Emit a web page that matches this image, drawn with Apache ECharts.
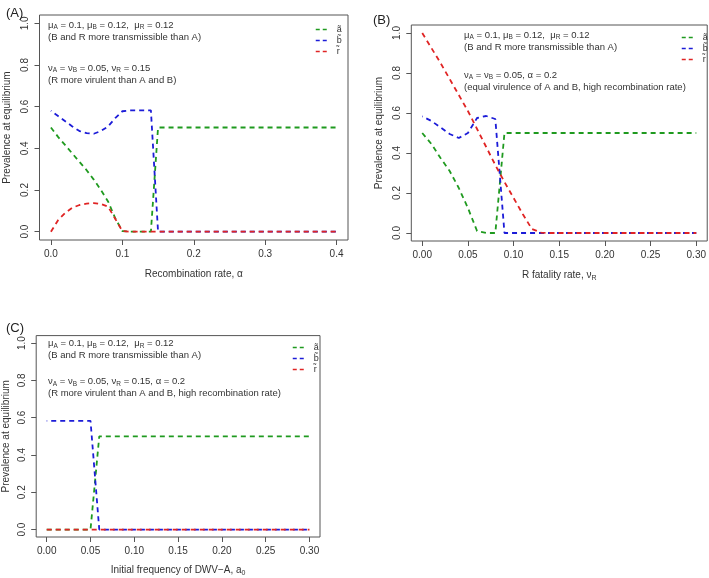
<!DOCTYPE html>
<html>
<head>
<meta charset="utf-8">
<script src="https://cdn.jsdelivr.net/npm/echarts@6/dist/echarts.min.js"></script>
<style>
  html, body { margin: 0; padding: 0; background: #fff; }
  #chart { width: 709px; height: 578px; }
</style>
</head>
<body>
<div id="chart"></div>
<script>
// panel A: recombination rate alpha, step 0.01
const alphaA = [];
for (let i = 0; i <= 40; i++) alphaA.push(+(i * 0.01).toFixed(2));
const aA = [0.5, 0.455, 0.415, 0.375, 0.335, 0.295, 0.25, 0.2, 0.145, 0.065, 0.003, 0, 0, 0, 0,
  0.5, 0.5, 0.5, 0.5, 0.5, 0.5, 0.5, 0.5, 0.5, 0.5, 0.5, 0.5, 0.5, 0.5, 0.5, 0.5, 0.5, 0.5, 0.5, 0.5, 0.5, 0.5, 0.5, 0.5, 0.5, 0.5];
const bA = [0.58, 0.555, 0.53, 0.505, 0.483, 0.473, 0.47, 0.483, 0.505, 0.545, 0.578, 0.582, 0.582, 0.582, 0.582,
  0, 0, 0, 0, 0, 0, 0, 0, 0, 0, 0, 0, 0, 0, 0, 0, 0, 0, 0, 0, 0, 0, 0, 0, 0, 0];
const rA = [0, 0.055, 0.09, 0.115, 0.128, 0.135, 0.137, 0.133, 0.12, 0.062, 0.003, 0, 0, 0, 0,
  0, 0, 0, 0, 0, 0, 0, 0, 0, 0, 0, 0, 0, 0, 0, 0, 0, 0, 0, 0, 0, 0, 0, 0, 0, 0];

// panel B: R fatality rate nu_R, step 0.01
const nuB = [];
for (let i = 0; i <= 30; i++) nuB.push(+(i * 0.01).toFixed(2));
const aB = [0.5, 0.445, 0.375, 0.31, 0.225, 0.125, 0.01, 0, 0,
  0.5, 0.5, 0.5, 0.5, 0.5, 0.5, 0.5, 0.5, 0.5, 0.5, 0.5, 0.5, 0.5, 0.5, 0.5, 0.5, 0.5, 0.5, 0.5, 0.5, 0.5, 0.5];
const bB = [0.583, 0.56, 0.528, 0.495, 0.475, 0.5, 0.575, 0.585, 0.57,
  0, 0, 0, 0, 0, 0, 0, 0, 0, 0, 0, 0, 0, 0, 0, 0, 0, 0, 0, 0, 0, 0];
const rB = [1.0, 0.925, 0.85, 0.77, 0.69, 0.61, 0.52, 0.43, 0.34, 0.255, 0.175, 0.095, 0.02, 0.002,
  0, 0, 0, 0, 0, 0, 0, 0, 0, 0, 0, 0, 0, 0, 0, 0, 0];

// panel C: initial frequency of DWV-A, step 0.01
const a0C = [];
for (let i = 0; i <= 30; i++) a0C.push(+(i * 0.01).toFixed(2));
const aC = [0, 0, 0, 0, 0, 0,
  0.5, 0.5, 0.5, 0.5, 0.5, 0.5, 0.5, 0.5, 0.5, 0.5, 0.5, 0.5, 0.5, 0.5, 0.5, 0.5, 0.5, 0.5, 0.5, 0.5, 0.5, 0.5, 0.5, 0.5, 0.5];
const bC = [0.583, 0.583, 0.583, 0.583, 0.583, 0.583,
  0, 0, 0, 0, 0, 0, 0, 0, 0, 0, 0, 0, 0, 0, 0, 0, 0, 0, 0, 0, 0, 0, 0, 0, 0];
const rC = [0, 0, 0, 0, 0, 0, 0, 0, 0, 0, 0, 0, 0, 0, 0, 0, 0, 0, 0, 0, 0, 0, 0, 0, 0, 0, 0, 0, 0, 0, 0];

// tick labels
const xTicksA = [0, 0.1, 0.2, 0.3, 0.4];
const xTicksBC = [0, 0.05, 0.1, 0.15, 0.2, 0.25, 0.3];
const yTicks = [0, 0.2, 0.4, 0.6, 0.8, 1.0];

const seriesNames = ['ã', 'b̃', 'r̃'];
const colors = ['#1f9a1f', '#1c1cd8', '#e02424'];

const textCol = '#333';
const font = 'Liberation Sans, Arial, sans-serif';

const chart = echarts.init(document.getElementById('chart'));

function pairs(xs, ys) { return xs.map((x, i) => [x, ys[i]]); }

function xAxis(idx, min, max, ticks, digits, name, gap) {
  return {
    type: 'value', gridIndex: idx, min: min, max: max,
    splitLine: { show: false },
    axisLine: { show: false, onZero: false },
    axisTick: { show: true, inside: false, length: 5, customValues: ticks, lineStyle: { color: '#555' } },
    axisLabel: { customValues: ticks, formatter: v => v.toFixed(digits), color: textCol, fontSize: 10, fontFamily: font, margin: 9 },
    name: name, nameLocation: 'middle', nameGap: gap,
    nameTextStyle: { color: textCol, fontSize: 10, fontFamily: font, rich: { s: { fontSize: 7, padding: [6, 0, 0, 0] } } }
  };
}
function yAxis(idx, gap) {
  return {
    type: 'value', gridIndex: idx, min: -0.04, max: 1.04,
    splitLine: { show: false },
    axisLine: { show: false, onZero: false },
    axisTick: { show: true, inside: false, length: 5, customValues: yTicks, lineStyle: { color: '#555' } },
    axisLabel: { customValues: yTicks, rotate: 90, formatter: v => v.toFixed(1), color: textCol, fontSize: 10, fontFamily: font, margin: 9 },
    name: 'Prevalence at equilibrium', nameLocation: 'middle', nameRotate: 90, nameGap: gap,
    nameTextStyle: { color: textCol, fontSize: 10, fontFamily: font }
  };
}

// draw order like the original: a, then b, then r on top (offset dashes so both show)
const series = [];
[[alphaA, [aA, bA, rA]], [nuB, [aB, bB, rB]], [a0C, [aC, bC, rC]]].forEach((p, gi) => {
  p[1].forEach((ys, si) => {
    series.push({
      type: 'line', name: seriesNames[si], xAxisIndex: gi, yAxisIndex: gi,
      data: pairs(p[0], ys), showSymbol: false, symbol: 'none', animation: false,
      lineStyle: { color: colors[si], width: 1.8, type: [5, 4], dashOffset: si * 4.5 },
      itemStyle: { color: colors[si] }, z: 2 + si
    });
  });
});

function legend(left, top) {
  return {
    left: left, top: top, orient: 'vertical', itemWidth: 14, itemHeight: 8, itemGap: 2,
    data: seriesNames, selectedMode: false,
    itemStyle: { opacity: 0, borderWidth: 0 },
    lineStyle: { type: [4, 3], width: 1.5, dashOffset: 0 },
    textStyle: { color: textCol, fontSize: 9, fontFamily: font, padding: [0, 0, 0, 2] }
  };
}

const rich = {
  n: { fontSize: 9.5, fontFamily: font, color: textCol },
  s: { fontSize: 6.5, fontFamily: font, color: textCol, padding: [5, 0, 0, 0] }
};
function note(x, y, txt) {
  return { type: 'text', x: x, y: y, style: { text: txt, font: '9.5px ' + font, fill: textCol, verticalAlign: 'middle', rich: rich } };
}
const line1 = '{n|μ}{s|A}{n| = 0.1, μ}{s|B}{n| = 0.12,  μ}{s|R}{n| = 0.12}';
const line2 = '{n|(B and R more transmissible than A)}';

chart.setOption({
  backgroundColor: '#fff',
  animation: false,
  title: [
    { text: '(A)', left: 1, top: 2, textStyle: { color: '#222', fontSize: 13, fontWeight: 'normal', fontFamily: font } },
    { text: '(B)', left: 368, top: 9, textStyle: { color: '#222', fontSize: 13, fontWeight: 'normal', fontFamily: font } },
    { text: '(C)', left: 1, top: 317, textStyle: { color: '#222', fontSize: 13, fontWeight: 'normal', fontFamily: font } }
  ],
  grid: [
    { left: 39.5, top: 15, width: 308.5, height: 225, show: true, borderColor: '#555', borderWidth: 1, backgroundColor: 'transparent' },
    { left: 411.3, top: 25, width: 296.7, height: 216, show: true, borderColor: '#555', borderWidth: 1, backgroundColor: 'transparent' },
    { left: 36.2, top: 335.6, width: 283.8, height: 207, show: true, borderColor: '#555', borderWidth: 1, backgroundColor: 'transparent' }
  ],
  xAxis: [
    xAxis(0, -0.016, 0.416, xTicksA, 1, 'Recombination rate, α', 29),
    xAxis(1, -0.012, 0.312, xTicksBC, 2, 'R fatality rate, ν{s|R}', 28),
    xAxis(2, -0.012, 0.312, xTicksBC, 2, 'Initial frequency of DWV−A, a{s|0}', 27)
  ],
  yAxis: [yAxis(0, 27), yAxis(1, 27), yAxis(2, 25)],
  legend: [legend(310, 20), legend(676, 28), legend(287, 338)],
  series: series,
  graphic: [
    note(48, 25, line1), note(48, 37, line2),
    note(48, 68, '{n|ν}{s|A}{n| = ν}{s|B}{n| = 0.05, ν}{s|R}{n| = 0.15}'),
    note(48, 80, '{n|(R more virulent than A and B)}'),
    note(464, 35, line1), note(464, 47.3, line2),
    note(464, 75, '{n|ν}{s|A}{n| = ν}{s|B}{n| = 0.05, α = 0.2}'),
    note(464, 87.3, '{n|(equal virulence of A and B, high recombination rate)}'),
    note(48, 343.3, line1), note(48, 355, line2),
    note(48, 381.7, '{n|ν}{s|A}{n| = ν}{s|B}{n| = 0.05, ν}{s|R}{n| = 0.15, α = 0.2}'),
    note(48, 393.3, '{n|(R more virulent than A and B, high recombination rate)}')
  ]
});
</script>
</body>
</html>
